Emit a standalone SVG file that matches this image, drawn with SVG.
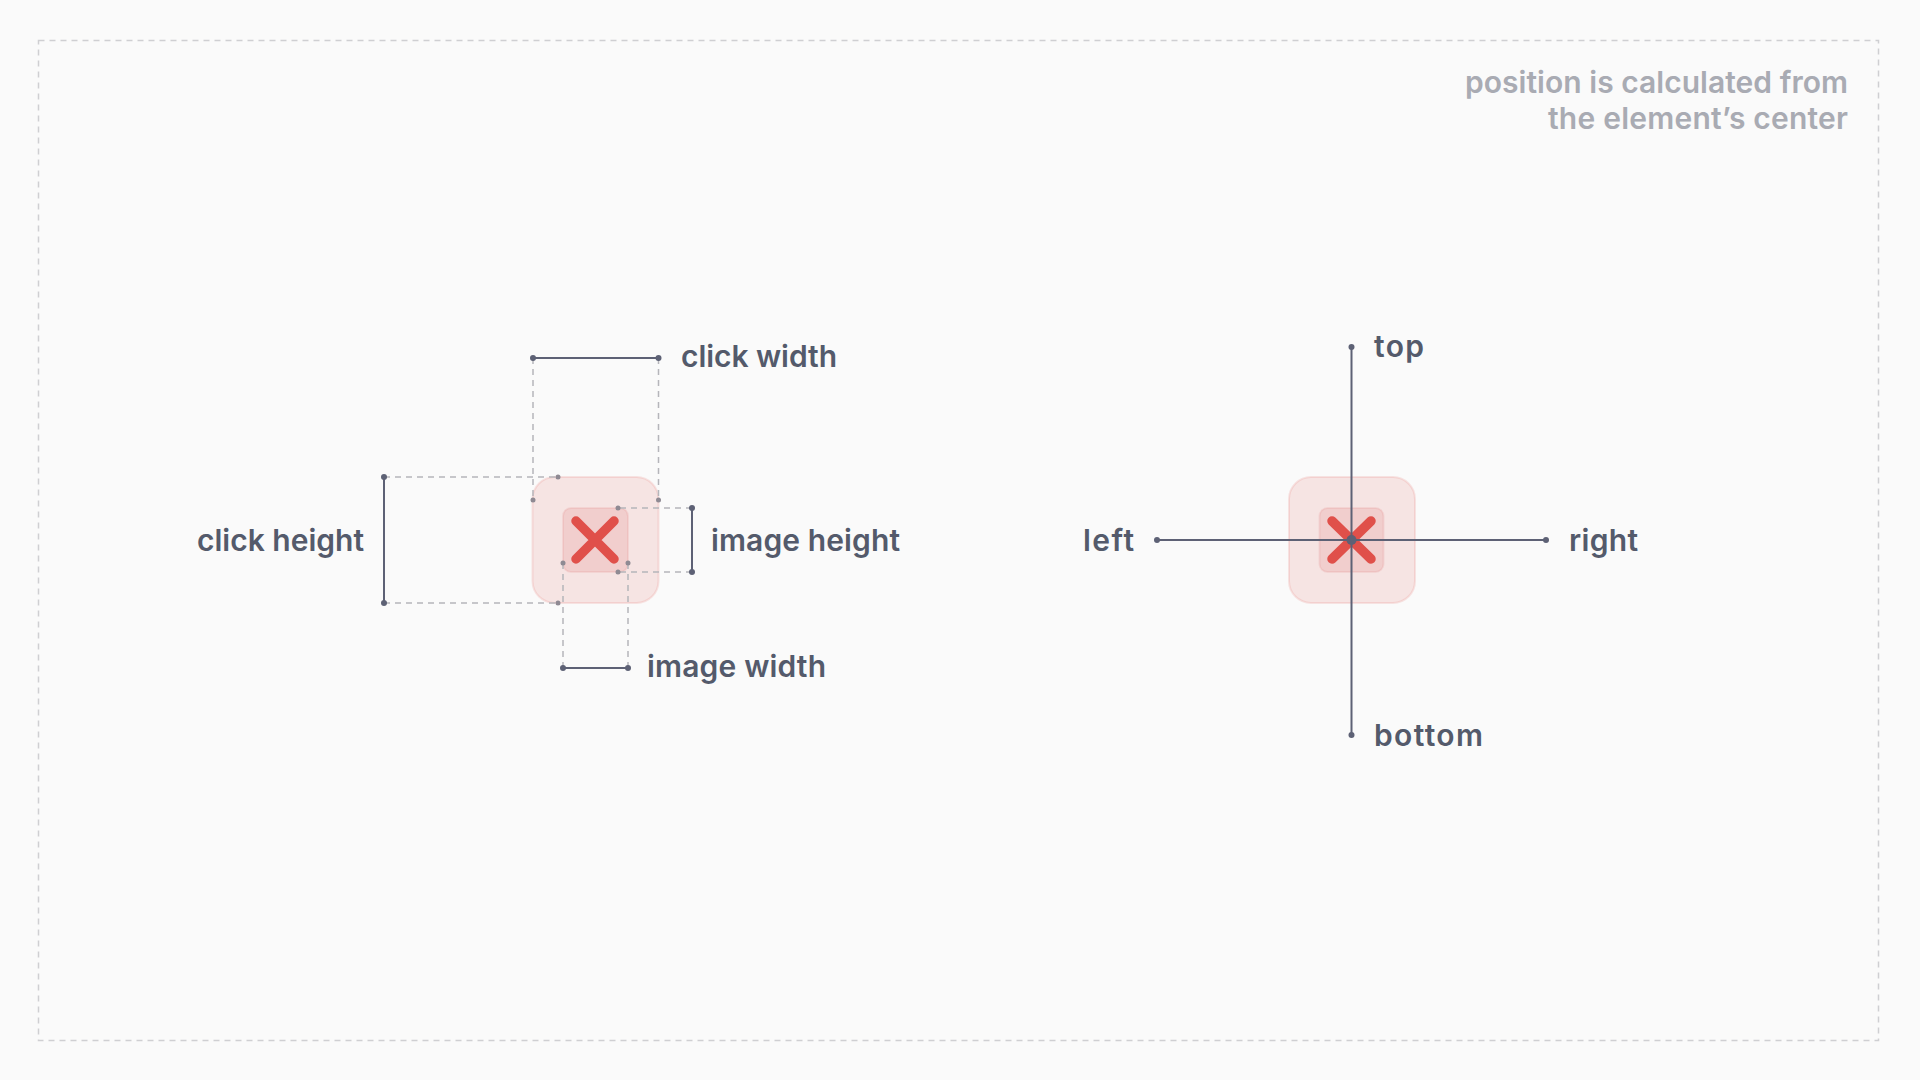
<svg xmlns="http://www.w3.org/2000/svg" width="1920" height="1080" viewBox="0 0 1920 1080">
<style>
.t{font-family:"Inter","Liberation Sans",sans-serif;font-weight:600;font-size:30px;fill:#545a6b}
.n{font-family:"Inter","Liberation Sans",sans-serif;font-weight:600;font-size:30px;fill:#a9abb3;text-anchor:end}
.o{fill:#e0524c;fill-opacity:.13;stroke:#e0524c;stroke-opacity:.14;stroke-width:2}
.i{fill:#d9534f;fill-opacity:.15;stroke:#d9534f;stroke-opacity:.1;stroke-width:2}
.x{stroke:#e0504a;stroke-width:9.500;stroke-linecap:round;fill:none}
.s{stroke:#5d6175;stroke-width:2;fill:none}
.d{stroke:#b5b5ba;stroke-width:1.500;stroke-dasharray:6 5;fill:none}
.p{fill:#5d6175}
.q{fill:#8f8a93}
</style>
<rect width="1920" height="1080" fill="#fafafa"/>
<rect id="frame" x="38.500" y="40.500" width="1840" height="1000" fill="none" stroke="#cfcfd2" stroke-width="1.500" stroke-dasharray="6 5"/>
<g id="note"><text class="n" x="1848" y="93" textLength="383" lengthAdjust="spacing">position is calculated from</text><text class="n" x="1848" y="129" textLength="300" lengthAdjust="spacing">the element’s center</text></g>
<g id="element-left"><rect class="o" x="532.500" y="477" width="126" height="126" rx="22"/><rect class="i" x="563" y="508" width="65" height="64" rx="8"/><path class="x" d="M576 521L614 559M614 521L576 559"/></g>
<g id="element-right"><rect class="o" x="1289" y="477" width="126" height="126" rx="22"/><rect class="i" x="1319.500" y="508" width="64" height="64" rx="8"/><path class="x" d="M1332 521L1371 559M1371 521L1332 559"/></g>
<g id="connectors">
<path class="d" d="M533 358V500M658.500 358V500M384 477H558M384 603H558M692 508H618M692 572H618M563 668V563M628 668V563"/>
<path class="s" d="M533 358H658.500M384 477V603M692 508V572M563 668H628M1351.500 347V735M1157 540H1546"/>
<g class="q"><circle cx="533" cy="500" r="2.500"/><circle cx="658.500" cy="500" r="2.500"/><circle cx="558" cy="477" r="2.500"/><circle cx="558" cy="603" r="2.500"/><circle cx="618" cy="508" r="2.500"/><circle cx="618" cy="572" r="2.500"/><circle cx="563" cy="563" r="2.500"/><circle cx="628" cy="563" r="2.500"/></g>
<g class="p"><circle cx="533" cy="358" r="3"/><circle cx="658.500" cy="358" r="3"/><circle cx="384" cy="477" r="3"/><circle cx="384" cy="603" r="3"/><circle cx="692" cy="508" r="3"/><circle cx="692" cy="572" r="3"/><circle cx="563" cy="668" r="3"/><circle cx="628" cy="668" r="3"/><circle cx="1351.500" cy="347" r="3"/><circle cx="1351.500" cy="735" r="3"/><circle cx="1157" cy="540" r="3"/><circle cx="1546" cy="540" r="3"/><circle cx="1351.500" cy="540" r="5"/></g>
</g>
<g id="labels">
<text class="t" x="681" y="367" textLength="156" lengthAdjust="spacing">click width</text>
<text class="t" x="197" y="551" textLength="167" lengthAdjust="spacing">click height</text>
<text class="t" x="711" y="551" textLength="189" lengthAdjust="spacing">image height</text>
<text class="t" x="647" y="677" textLength="179" lengthAdjust="spacing">image width</text>
<text class="t" x="1374" y="357" textLength="50" lengthAdjust="spacing">top</text>
<text class="t" x="1374" y="746" textLength="109" lengthAdjust="spacing">bottom</text>
<text class="t" x="1083" y="551" textLength="51" lengthAdjust="spacing">left</text>
<text class="t" x="1569" y="551" textLength="69" lengthAdjust="spacing">right</text>
</g>
</svg>
